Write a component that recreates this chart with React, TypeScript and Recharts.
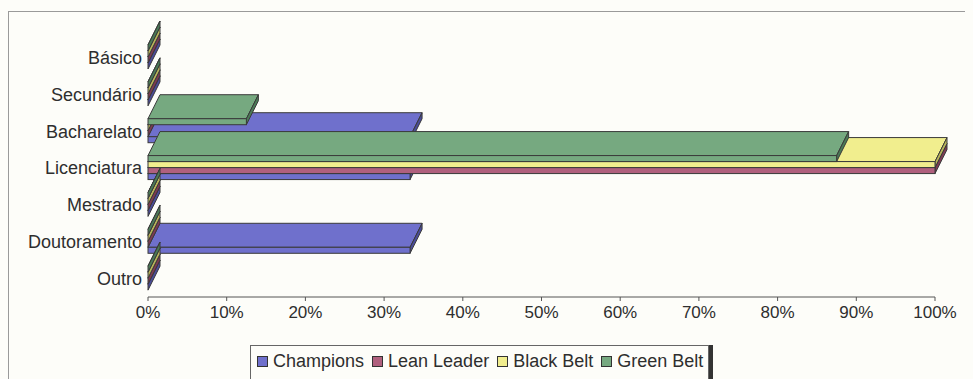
import React from "react";
import { BarChart, Bar, XAxis, YAxis } from "recharts";

// nível de escolaridade por função
const categories = ["Básico", "Secundário", "Bacharelato", "Licenciatura", "Mestrado", "Doutoramento", "Outro"];
const champions = [0, 0, 0.333, 0.333, 0, 0.333, 0];
const leanLeader = [0, 0, 0, 1, 0, 0, 0];
const blackBelt = [0, 0, 0, 1, 0, 0, 0];
const greenBelt = [0, 0, 0.125, 0.875, 0, 0, 0];
const xTicks = [0, 0.1, 0.2, 0.3, 0.4, 0.5, 0.6, 0.7, 0.8, 0.9, 1];

const seriesNames = ["Champions", "Lean Leader", "Black Belt", "Green Belt"];
const seriesKeys = ["champions", "leanLeader", "blackBelt", "greenBelt"];
const colors = ["#6f70cc", "#b0607e", "#f1ee8e", "#76a980"];
const sideColors = ["#4a4b9a", "#7e3a52", "#b8b45a", "#4a7a56"];

const data = categories.map((name, i) => ({
  name,
  champions: champions[i],
  leanLeader: leanLeader[i],
  blackBelt: blackBelt[i],
  greenBelt: greenBelt[i],
}));

const FONT = "'Liberation Sans', Arial, sans-serif";

// barra com aspecto 3D (frente, topo e lado direito)
const make3D = (side: string) => (props: any) => {
  const { x, y, width, height, fill } = props;
  const dx = 12;
  const dy = -24;
  const w = Math.max(width || 0, 0);
  return (
    <g stroke="#3a3a3a" strokeWidth={1}>
      <polygon points={`${x},${y} ${x + dx},${y + dy} ${x + w + dx},${y + dy} ${x + w},${y}`} fill={fill} />
      <polygon
        points={`${x + w},${y} ${x + w + dx},${y + dy} ${x + w + dx},${y + dy + height} ${x + w},${y + height}`}
        fill={side}
      />
      <rect x={x} y={y} width={w} height={height} fill={fill} />
    </g>
  );
};

export default function App() {
  return (
    <div style={{ position: "relative", width: 965, height: 371, overflow: "hidden", background: "#fdfdf9" }}>
      <style>{"body{background:#fdfdf9}"}</style>
      <div
        style={{
          position: "absolute",
          left: 0,
          top: 3,
          width: 990,
          height: 420,
          border: "1px solid #9a9a9a",
          boxSizing: "border-box",
        }}
      />
      <div style={{ position: "absolute", left: 0, top: 0 }}>
        <BarChart
          width={965}
          height={371}
          data={data}
          layout="vertical"
          margin={{ top: 31, right: 38, bottom: 0, left: 0 }}
          barSize={6}
          barGap={-12}
        >
          <XAxis
            type="number"
            domain={[0, 1]}
            ticks={xTicks}
            tickFormatter={(v: number) => `${Math.round(v * 100)}%`}
            height={82}
            stroke="#555"
            tickSize={4}
            tickMargin={5}
            tick={{ fill: "#2e2e2e", fontSize: 17, fontFamily: FONT }}
          />
          <YAxis
            type="category"
            dataKey="name"
            width={140}
            axisLine={false}
            tickLine={false}
            tickSize={0}
            tickMargin={6}
            interval={0}
            tick={{ fill: "#2e2e2e", fontSize: 18, fontFamily: FONT }}
          />
          {seriesKeys.map((k, i) => (
            <Bar
              key={k}
              dataKey={k}
              name={seriesNames[i]}
              fill={colors[i]}
              shape={make3D(sideColors[i])}
              isAnimationActive={false}
            />
          ))}
        </BarChart>
      </div>
      <div
        style={{
          position: "absolute",
          left: 242,
          top: 337,
          width: 459,
          height: 60,
          border: "1px solid #666",
          boxShadow: "4px 0 0 #333",
          background: "#fdfdf9",
          display: "flex",
          alignItems: "flex-start",
          paddingTop: 5,
          paddingLeft: 6,
          boxSizing: "border-box",
          fontFamily: FONT,
          fontSize: 18,
          color: "#2e2e2e",
          whiteSpace: "nowrap",
        }}
      >
        {seriesNames.map((n, i) => (
          <div key={n} style={{ display: "flex", alignItems: "center", marginRight: 8 }}>
            <span
              style={{
                display: "inline-block",
                width: 9,
                height: 9,
                background: colors[i],
                border: "1px solid #333",
                marginRight: 5,
              }}
            />
            <span>{n}</span>
          </div>
        ))}
      </div>
    </div>
  );
}
